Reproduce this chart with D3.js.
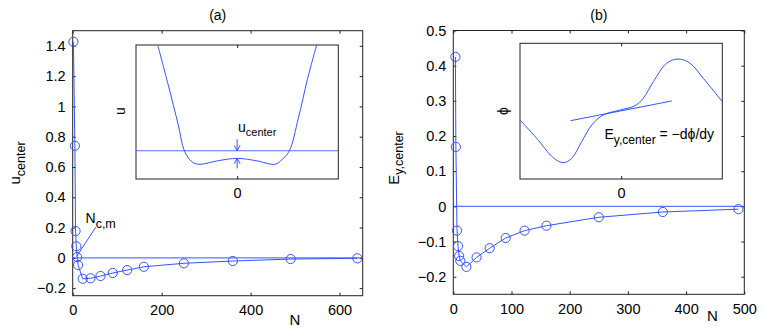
<!DOCTYPE html>
<html>
<head>
<meta charset="utf-8">
<script src="https://cdn.jsdelivr.net/npm/d3@7"></script>
<style>
  body { margin: 0; background: #fff; }
  svg { display: block; font-family: "Liberation Sans", Arial, Helvetica, sans-serif; }
</style>
</head>
<body>
<svg id="fig"></svg>
<script>
// panel (a) data
const nA = [1.6, 4.9, 6.4, 8.1, 10, 12.1, 22.5, 40, 62.5, 90, 122.5, 160, 250, 360, 490, 640];
const uCenter = [1.427, 0.74, 0.177, 0.076, 0.005, -0.048, -0.138, -0.135, -0.12, -0.1, -0.081, -0.059, -0.036, -0.021, -0.008, -0.003];
const xTicksA = [0, 200, 400, 600];
const yTicksA = [-0.2, 0, 0.2, 0.4, 0.6, 0.8, 1, 1.2, 1.4];

// panel (b) data
const nB = [3.6, 4.4, 6.4, 8.1, 10, 12.1, 22.5, 40, 62.5, 90, 122.5, 160, 250, 360, 490];
const eyCenter = [0.425, 0.169, -0.069, -0.113, -0.141, -0.155, -0.172, -0.145, -0.119, -0.09, -0.069, -0.055, -0.031, -0.016, -0.008];
const xTicksB = [0, 100, 200, 300, 400, 500];
const yTicksB = [-0.2, -0.1, 0, 0.1, 0.2, 0.3, 0.4, 0.5];

// inset (a): u profile (sketch, arbitrary units)
const uProfX = [-0.785, -0.681, -0.582, -0.522, -0.449, -0.377, -0.186, 0, 0.186, 0.374, 0.44, 0.516, 0.605, 0.697, 0.786];
const uProfY = [1.0, 0.701, 0.403, 0.211, 0.129, 0.11, 0.137, 0.154, 0.137, 0.11, 0.142, 0.211, 0.453, 0.751, 1.0];
const uLevel = 0.211;

// inset (b): phi profile and tangent at center
const phiX = [-1.0, -0.835, -0.671, -0.572, -0.489, -0.39, -0.291, -0.176, -0.011, 0.137, 0.219, 0.318, 0.45, 0.565, 0.681, 0.812, 1.0];
const phiY = [0.435, 0.3, 0.157, 0.12, 0.153, 0.275, 0.398, 0.472, 0.508, 0.54, 0.595, 0.717, 0.853, 0.884, 0.853, 0.742, 0.57];
const tanX = [-0.499, 0.5];
const tanY = [0.43, 0.575];

const blue = '#3355ff';
const axisColor = '#222';
const tickLen = 3;

const svg = d3.select('#fig').attr('width', 763).attr('height', 333);

// text with a subscript part
const subText = (g, x, y, main, sub, size, subSize, anchor, rotate) => {
    const t = g.append('text')
        .attr('font-size', size)
        .attr('fill', '#000')
        .attr('text-anchor', anchor || 'start');
    if (rotate) t.attr('transform', `translate(${x},${y}) rotate(-90)`);
    else t.attr('x', x).attr('y', y);
    t.append('tspan').text(main);
    t.append('tspan').attr('font-size', subSize).attr('dy', subSize * 0.38).text(sub);
    return t;
};

// boxed axes with inward ticks on all four sides
const drawAxes = (g, x, y, xTicks, yTicks, fmtY) => {
    const [x0, x1] = x.range();
    const [y0, y1] = y.range();
    g.append('rect')
        .attr('x', x0).attr('y', y1)
        .attr('width', x1 - x0).attr('height', y0 - y1)
        .attr('fill', 'none').attr('stroke', axisColor).attr('stroke-width', 1);

    g.append('g').attr('transform', `translate(0,${y0})`)
        .call(d3.axisBottom(x).tickValues(xTicks).tickSize(-tickLen).tickPadding(9).tickFormat(d3.format('d')))
        .call(a => a.select('.domain').remove());
    g.append('g').attr('transform', `translate(0,${y1})`)
        .call(d3.axisTop(x).tickValues(xTicks).tickSize(-tickLen).tickFormat(''))
        .call(a => a.select('.domain').remove());
    g.append('g').attr('transform', `translate(${x0},0)`)
        .call(d3.axisLeft(y).tickValues(yTicks).tickSize(-tickLen).tickPadding(7).tickFormat(fmtY))
        .call(a => a.select('.domain').remove());
    g.append('g').attr('transform', `translate(${x1},0)`)
        .call(d3.axisRight(y).tickValues(yTicks).tickSize(-tickLen).tickFormat(''))
        .call(a => a.select('.domain').remove());

    g.selectAll('.tick line').attr('stroke', axisColor);
    g.selectAll('.tick text')
        .attr('font-size', 14.5)
        .attr('fill', '#000')
        .attr('font-family', '"Liberation Sans", Arial, sans-serif');
};

const fmtNum = d => (d === 0 ? '0' : (d < 0 ? '\u2212' : '') + d3.format('.1~f')(Math.abs(d)).replace(/^0\./, '0.'));

const drawSeries = (g, x, y, xs, ys) => {
    const pts = xs.map((d, i) => [d, ys[i]]);
    g.append('line')
        .attr('x1', x.range()[0]).attr('x2', x.range()[1])
        .attr('y1', y(0)).attr('y2', y(0))
        .attr('stroke', blue).attr('stroke-opacity', 0.8).attr('stroke-width', 1.2);
    g.append('path')
        .datum(pts)
        .attr('d', d3.line().x(d => x(d[0])).y(d => y(d[1])))
        .attr('fill', 'none').attr('stroke', blue).attr('stroke-width', 1);
    g.selectAll('circle.pt')
        .data(pts)
        .enter()
        .append('circle')
        .attr('class', 'pt')
        .attr('cx', d => x(d[0]))
        .attr('cy', d => y(d[1]))
        .attr('r', 4.6)
        .attr('fill', 'none')
        .attr('stroke', blue)
        .attr('stroke-width', 1);
};

// inset box with a single tick at 0 top and bottom
const drawInset = (g, ix, iy, id) => {
    const [x0, x1] = ix.range();
    const [y0, y1] = iy.range();
    g.append('rect')
        .attr('x', x0).attr('y', y1).attr('width', x1 - x0).attr('height', y0 - y1)
        .attr('fill', '#fff').attr('stroke', axisColor).attr('stroke-width', 1);
    g.append('g').attr('transform', `translate(0,${y0})`)
        .call(d3.axisBottom(ix).tickValues([0]).tickSize(-tickLen).tickPadding(9).tickFormat(d3.format('d')))
        .call(a => a.select('.domain').remove());
    g.append('g').attr('transform', `translate(0,${y1})`)
        .call(d3.axisTop(ix).tickValues([0]).tickSize(-tickLen).tickFormat(''))
        .call(a => a.select('.domain').remove());
    g.selectAll('.tick line').attr('stroke', axisColor);
    g.selectAll('.tick text').attr('font-size', 14.5).attr('fill', '#000');
    g.append('clipPath').attr('id', id)
        .append('rect').attr('x', x0).attr('y', y1).attr('width', x1 - x0).attr('height', y0 - y1);
};

// ---------- panel (a)
const gA = svg.append('g');
const xA = d3.scaleLinear().domain([0, 652]).range([72.7, 362.7]);
const yA = d3.scaleLinear().domain([-0.25, 1.5]).range([295.7, 30.7]);
drawAxes(gA, xA, yA, xTicksA, yTicksA, fmtNum);
drawSeries(gA, xA, yA, nA, uCenter);

gA.append('text').attr('x', 217.7).attr('y', 20).attr('text-anchor', 'middle')
    .attr('font-size', 14).text('(a)');
gA.append('text').attr('x', 295).attr('y', 325).attr('text-anchor', 'middle')
    .attr('font-size', 15).text('N');
subText(gA, 20, 163, 'u', 'center', 15, 12.5, 'middle', true);

// N_c,m annotation pointing at the crossing
gA.append('line')
    .attr('x1', xA(9)).attr('y1', yA(0.01))
    .attr('x2', 95.7).attr('y2', 227.3)
    .attr('stroke', blue).attr('stroke-width', 1);
subText(gA, 85.5, 223, 'N', 'c,m', 14, 12.5, 'start', false);

// inset (a)
const ixA = d3.scaleLinear().domain([-1, 1]).range([136, 338.3]);
const iyA = d3.scaleLinear().domain([0, 1]).range([179, 45]);
const inA = gA.append('g');
drawInset(inA, ixA, iyA, 'clipA');
inA.append('line')
    .attr('x1', ixA(-1)).attr('x2', ixA(1))
    .attr('y1', iyA(uLevel)).attr('y2', iyA(uLevel))
    .attr('stroke', blue).attr('stroke-opacity', 0.85).attr('stroke-width', 1.2);
inA.append('path')
    .datum(uProfX.map((d, i) => [d, uProfY[i]]))
    .attr('clip-path', 'url(#clipA)')
    .attr('d', d3.line().x(d => ixA(d[0])).y(d => iyA(d[1])).curve(d3.curveCatmullRom))
    .attr('fill', 'none').attr('stroke', blue).attr('stroke-width', 1);
// arrows marking u_center
const cx = ixA(0);
const yTop = iyA(uLevel);
const yMid = iyA(uProfY[uProfX.indexOf(0)]);
inA.append('path')
    .attr('d', `M${cx},${yTop - 11.5}V${yTop} M${cx - 3},${yTop - 5.5}L${cx},${yTop}L${cx + 3},${yTop - 5.5}`)
    .attr('fill', 'none').attr('stroke', blue).attr('stroke-width', 1);
inA.append('path')
    .attr('d', `M${cx},${yMid + 10}V${yMid} M${cx - 3},${yMid + 5.5}L${cx},${yMid}L${cx + 3},${yMid + 5.5}`)
    .attr('fill', 'none').attr('stroke', blue).attr('stroke-width', 1);
subText(inA, 238, 131.5, 'u', 'center', 14, 11, 'start', false);
inA.append('text')
    .attr('transform', `translate(125,111) rotate(-90)`)
    .attr('text-anchor', 'middle').attr('font-size', 14).text('u');

// ---------- panel (b)
const gB = svg.append('g');
const xB = d3.scaleLinear().domain([0, 500]).range([453.3, 744.3]);
const yB = d3.scaleLinear().domain([-0.25, 0.5]).range([294.3, 30.5]);
drawAxes(gB, xB, yB, xTicksB, yTicksB, fmtNum);
drawSeries(gB, xB, yB, nB, eyCenter);

gB.append('text').attr('x', 598.8).attr('y', 20).attr('text-anchor', 'middle')
    .attr('font-size', 14).text('(b)');
gB.append('text').attr('x', 712.3).attr('y', 321).attr('text-anchor', 'middle')
    .attr('font-size', 15).text('N');
subText(gB, 398.5, 158, 'E', 'y,center', 15, 12.5, 'middle', true);

// inset (b)
const ixB = d3.scaleLinear().domain([-1, 1]).range([520, 722.3]);
const iyB = d3.scaleLinear().domain([0, 1]).range([179, 43.3]);
const inB = gB.append('g');
drawInset(inB, ixB, iyB, 'clipB');
inB.append('path')
    .datum(phiX.map((d, i) => [d, phiY[i]]))
    .attr('clip-path', 'url(#clipB)')
    .attr('d', d3.line().x(d => ixB(d[0])).y(d => iyB(d[1])).curve(d3.curveCatmullRom))
    .attr('fill', 'none').attr('stroke', blue).attr('stroke-width', 1);
inB.append('path')
    .datum(tanX.map((d, i) => [d, tanY[i]]))
    .attr('d', d3.line().x(d => ixB(d[0])).y(d => iyB(d[1])))
    .attr('fill', 'none').attr('stroke', blue).attr('stroke-width', 1);
const eq = subText(inB, 604.5, 139, 'E', 'y,center', 14, 12, 'start', false);
eq.append('tspan').attr('dy', -12 * 0.38).text(' = \u2212d\u03d5/dy');
inB.append('text')
    .attr('transform', `translate(508,111) rotate(-90)`)
    .attr('text-anchor', 'middle').attr('font-size', 14).text('\u03d5');
</script>
</body>
</html>
